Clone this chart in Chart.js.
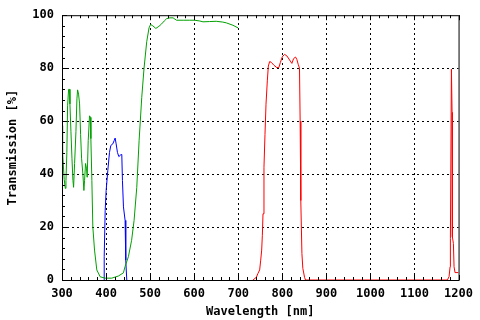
<!DOCTYPE html>
<html>
<head>
<meta charset="utf-8">
<script src="https://cdn.jsdelivr.net/npm/chart.js@4"></script>
<style>
  html, body { margin: 0; padding: 0; background: #fff; }
  #wrap { width: 480px; height: 320px; }
</style>
</head>
<body>
<div id="wrap"><canvas id="chart" width="480" height="320"></canvas></div>
<script>
// green curve
const greenX = [300, 301.4, 305, 307.5, 309, 311, 312.7, 315, 317.3, 318, 320.3, 322.6, 324.8, 326.3, 328.6,
  331.6, 333.9, 335.4, 337.6, 339.9, 342.2, 344.4, 347.4, 349.7, 351.2, 353.5, 355.7, 357.2, 359.5, 362.5,
  364.8, 365.5, 367.8, 370, 373.8, 379, 386.7, 398, 413, 428, 439.4, 443, 450.7, 458, 463.6, 469.7, 475,
  481, 486.2, 492.3, 497.5, 501, 506, 513, 520, 526, 532, 537.5, 545, 552, 560, 575, 590, 601, 613, 620,
  635, 650, 665, 673, 688, 699.6];
const greenY = [58.3, 48, 38, 34.6, 37.6, 48, 65.8, 72, 72, 66.5, 56, 46, 37.6, 35, 44,
  56, 68.4, 71.8, 70.2, 66.5, 55, 46, 40, 33.8, 37.6, 44, 42, 38.8, 52.6, 62,
  61.4, 53.4, 37.6, 20, 11.3, 3.8, 1.2, 0.7, 0.7, 1.5, 2.7, 5, 8.8, 15, 22.5, 35, 52.6,
  69, 80, 90, 95.2, 96.5, 96, 95, 95.8, 96.7, 97.8, 98.7, 99, 99, 98.1, 98.1, 98.1, 98.1, 97.8, 97.5,
  97.6, 97.7, 97.4, 97.1, 96.2, 95.2];

// blue curve
const blueX = [395.7, 395.8, 398, 400.2, 404, 407.8, 410.8, 415.3, 418.3, 420.6, 422.9, 425.8, 429,
  433.5, 435.7, 437.2, 439.5, 443.2, 444.7, 447];
const blueY = [0, 8.8, 26.3, 33.8, 41.4, 48.2, 50.8, 51.4, 52.6, 53.6, 51.4, 48.2, 46.6,
  47.3, 47.4, 37.6, 27.6, 22.5, 7.5, 0];

// red curve (main band and narrow peak near 1180 nm)
const redX = [733.5, 741, 744.8, 748.6, 751, 753.2, 754.7, 756.2, 758.4, 760.7, 763, 766, 768.3, 771.3,
  775, 781, 787.8, 792.3, 795.5, 800, 805.2, 810.5, 816.5, 821.7, 825.6, 830, 833, 836, 839, 840.5,
  842, 844.5, 846.6, 850.5, 852.7, 1174.7, 1178.5, 1180.8, 1181.5, 1183.8, 1185.3, 1186, 1188.3, 1189.8,
  1192, 1199.5];
const redY = [0, 1, 2.5, 3.8, 7.5, 11.3, 16.9, 25, 42.6, 55, 66.4, 75.2, 80.8, 82.5,
  82.2, 81.1, 80.2, 80.3, 82.1, 84.3, 85.2, 84.6, 83.1, 81.8, 83.6, 84.2, 83.3, 81.5, 80, 60,
  30, 10, 4.4, 1, 0, 0, 1.3, 5, 15.6, 79.6, 63.3, 16.3, 13.8, 5,
  2.8, 2.8];

const xTicks = [300, 400, 500, 600, 700, 800, 900, 1000, 1100, 1200];
const yTicks = [0, 20, 40, 60, 80, 100];

const pts = (xs, ys) => xs.map((x, i) => ({ x: x, y: ys[i] }));
const font = { family: "'DejaVu Sans Mono', monospace", size: 12, weight: 'bold' };

// dotted grid under the curves
const grid = {
  id: 'dotgrid',
  beforeDatasetsDraw(chart) {
    const { ctx, chartArea: a, scales: { x, y } } = chart;
    ctx.save();
    ctx.strokeStyle = '#000';
    ctx.lineWidth = 1;
    ctx.setLineDash([2, 3]);
    ctx.beginPath();
    xTicks.slice(1, -1).forEach(v => {
      const px = Math.round(x.getPixelForValue(v)) + 0.5;
      ctx.moveTo(px, a.bottom); ctx.lineTo(px, a.top);
    });
    yTicks.slice(1, -1).forEach(v => {
      const py = Math.round(y.getPixelForValue(v)) + 0.5;
      ctx.moveTo(a.left, py); ctx.lineTo(a.right, py);
    });
    ctx.stroke();
    ctx.restore();
  }
};

// frame and inward tick marks, gnuplot style
const frame = {
  id: 'frame',
  afterDraw(chart) {
    const { ctx, chartArea: a, scales: { x, y } } = chart;
    ctx.save();
    ctx.strokeStyle = '#000';
    ctx.lineWidth = 1;
    ctx.beginPath();
    for (let v = 300; v <= 1200; v += 20) {
      const px = Math.round(x.getPixelForValue(v)) + 0.5;
      const len = (v % 100 === 0) ? 5 : 3;
      ctx.moveTo(px, a.bottom); ctx.lineTo(px, a.bottom - len);
      ctx.moveTo(px, a.top); ctx.lineTo(px, a.top + len);
    }
    for (let v = 0; v <= 100; v += 4) {
      const py = Math.round(y.getPixelForValue(v)) + 0.5;
      const len = (v % 20 === 0) ? 5 : 3;
      ctx.moveTo(a.left, py); ctx.lineTo(a.left + len, py);
    }
    ctx.stroke();
    ctx.strokeRect(a.left + 0.5, a.top + 0.5, a.right - a.left, a.bottom - a.top);
    ctx.restore();
  }
};

new Chart(document.getElementById('chart').getContext('2d'), {
  type: 'line',
  data: {
    datasets: [
      { data: pts(greenX, greenY), borderColor: '#00a000' },
      { data: pts(blueX, blueY), borderColor: '#0000ff' },
      { data: pts(redX, redY), borderColor: '#ff0000' }
    ]
  },
  options: {
    responsive: false,
    animation: false,
    elements: { point: { radius: 0 }, line: { borderWidth: 1, tension: 0 } },
    layout: { padding: { top: 14, right: 20, left: 0, bottom: 0 } },
    plugins: { legend: { display: false }, tooltip: { enabled: false } },
    scales: {
      x: {
        type: 'linear', min: 300, max: 1200,
        afterBuildTicks: s => { s.ticks = xTicks.map(v => ({ value: v })); },
        afterFit: s => { s.height = 40; },
        grid: { display: false, drawTicks: false },
        border: { display: false },
        ticks: { color: '#000', font: font, padding: 7, maxRotation: 0, callback: v => String(v) },
        title: { display: true, text: 'Wavelength [nm]', color: '#000', font: font, padding: { top: 0, bottom: 1 } }
      },
      y: {
        min: 0, max: 100,
        afterBuildTicks: s => { s.ticks = yTicks.map(v => ({ value: v })); },
        afterFit: s => { s.width = 62; },
        grid: { display: false, drawTicks: false },
        border: { display: false },
        ticks: { color: '#000', font: font, padding: 8, callback: v => String(v) },
        title: { display: true, text: 'Transmission [%]', color: '#000', font: font, padding: { top: 6, bottom: 0 } }
      }
    }
  },
  plugins: [grid, frame]
});
</script>
</body>
</html>
